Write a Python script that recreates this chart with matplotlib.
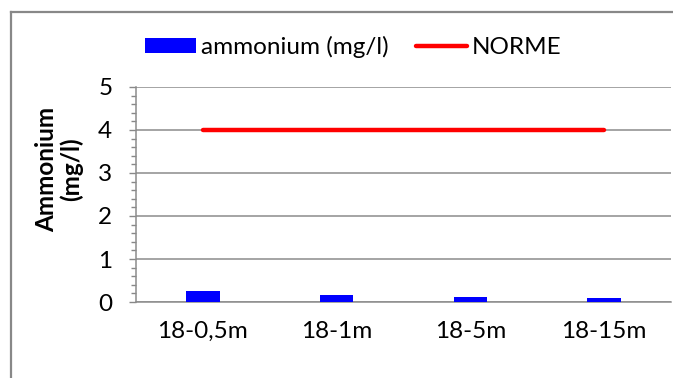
import matplotlib.pyplot as plt
from matplotlib.lines import Line2D
from matplotlib.ticker import MultipleLocator

plt.rcParams['font.family'] = ['Lato', 'DejaVu Sans']

# sampling points and measured ammonium
stations = ['18-0,5m', '18-1m', '18-5m', '18-15m']
ammonium = [0.26, 0.16, 0.12, 0.10]
norme = [4, 4, 4, 4]

FS = 17.5

fig = plt.figure(figsize=(6.73, 3.78), dpi=100)
ax = fig.add_axes([0.202, 0.201, 0.795, 0.569])

x = range(len(stations))
bars = ax.bar(x, ammonium, width=0.25, color='#0000FF', label='ammonium (mg/l)', zorder=3)
line, = ax.plot(x, norme, color='#FF0000', lw=3.2, solid_capstyle='round',
                label='NORME', zorder=4)

ax.set_xlim(-0.5, len(stations) - 0.5)
ax.set_ylim(0, 5)
ax.set_xticks(list(x))
ax.set_xticklabels(stations, fontsize=FS)
ax.yaxis.set_major_locator(MultipleLocator(1))
ax.yaxis.set_minor_locator(MultipleLocator(0.2))
ax.tick_params(axis='y', which='major', labelsize=FS, length=5, color='#888888', width=1, pad=12)
ax.tick_params(axis='y', which='minor', length=3.5, color='#888888', width=1)
ax.tick_params(axis='x', length=0, pad=13.5)

ax.grid(axis='y', color='#8c8c8c', lw=1.1, zorder=0)
for s in ['top', 'right']:
    ax.spines[s].set_visible(False)
ax.spines['left'].set_color('#8c8c8c')
ax.spines['bottom'].set_color('#8c8c8c')
ax.spines['left'].set_linewidth(1.1)
ax.spines['bottom'].set_linewidth(1.1)

fig.text(59 / 673, 1 - 169 / 378, 'Ammonium\n(mg/l)', rotation=90, fontsize=FS,
         fontweight='bold', ha='center', va='center', linespacing=1.1)

fig.legend(handles=[bars, line], loc='center', bbox_to_anchor=(0.525, 1 - 47 / 378),
           ncol=2, frameon=False, fontsize=FS, handlelength=2.1, handleheight=0.55,
           handletextpad=0.2, columnspacing=1.1)

# chart frame (left and top edges)
fx, fy = 11 / 673, 1 - 12 / 378
fig.add_artist(Line2D([fx, fx], [0, fy], transform=fig.transFigure, color='#888888', lw=1.6))
fig.add_artist(Line2D([fx, 1], [fy, fy], transform=fig.transFigure, color='#888888', lw=1.6))

fig.savefig('out.png', dpi=100)
